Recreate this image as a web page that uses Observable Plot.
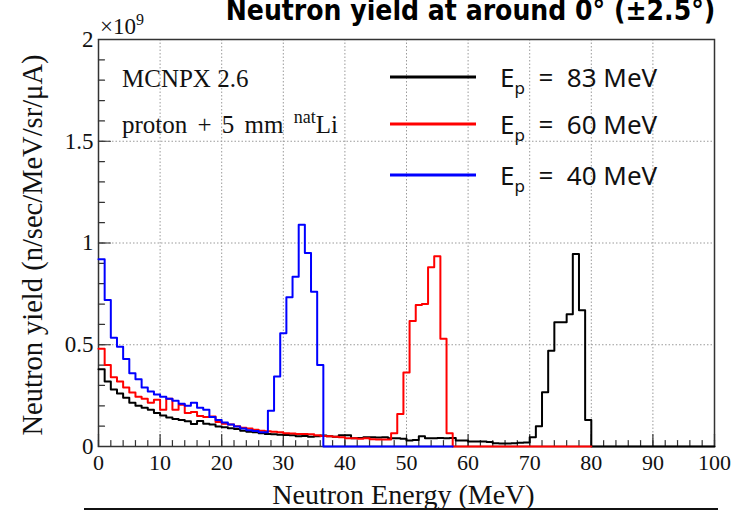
<!DOCTYPE html>
<html><head><meta charset="utf-8">
<script src="https://cdn.jsdelivr.net/npm/d3@7"></script>
<script src="https://cdn.jsdelivr.net/npm/@observablehq/plot@0.6"></script>
<style>
body{margin:0;background:#fff;}
#wrap{position:relative;width:733px;height:511px;overflow:hidden;}
</style></head><body><div id="wrap"></div>
<script>
// ---- data (yields in units of 1e9 n/sec/MeV/sr/uA) ----
const title = "Neutron yield at around 0° (±2.5°)";
const xLabel = "Neutron Energy (MeV)";
const yLabel = "Neutron yield (n/sec/MeV/sr/μA)";
const xTickValues = [0,10,20,30,40,50,60,70,80,90,100];
const yTickValues = [0,0.5,1,1.5,2];

// Ep = 83 MeV (black): bin edges and yields
const blackEdges = [0,1,2,3,4,5,6,7,8,9,10,11,12,13,14,15,16,17,18,19,20,21,22,23,24,25,26,27,28,29,30,31,32,33,34,35,36,37,38,39,40,41,42,43,44,45,46,47,48,49,50,51,52,53,54,55,56,57,58,59,60,61,62,63,64,65,66,67,68,69,70,71,72,73,74,75,76,77,78,79,80,100];
const blackYield = [0.38,0.32,0.28,0.26,0.24,0.215,0.20,0.19,0.18,0.165,
  0.152,0.143,0.135,0.13,0.124,0.11,0.125,0.112,0.108,0.098,
  0.095,0.09,0.086,0.078,0.072,0.07,0.065,0.062,0.06,0.058,
  0.056,0.055,0.05,0.052,0.048,0.05,0.054,0.05,0.048,0.055,
  0.055,0.04,0.042,0.045,0.045,0.044,0.045,0.04,0.04,0.038,
  0.03,0.032,0.05,0.04,0.04,0.042,0.04,0.042,0.03,0.03,
  0.025,0.024,0.024,0.022,0.016,0.015,0.015,0.016,0.018,0.02,
  0.046,0.1,0.266,0.47,0.61,0.61,0.65,0.946,0.67,0.13,
  0];

// Ep = 60 MeV (red)
const redEdges = [0,1,2,3,4,5,6,7,8,9,10,11,12,13,14,15,16,17,18,19,20,21,22,23,24,25,26,27,28,29,30,31,32,33,34,35,36,37,38,39,40,41,42,43,44,45,46,
  47.5,48.5,49.5,50.5,51.5,52.5,53.5,54.5,55.5,56.5,57.5,80];
const redYield = [0.48,0.40,0.34,0.32,0.29,0.265,0.245,0.235,0.215,0.23,
  0.18,0.235,0.18,0.205,0.165,0.17,0.15,0.145,0.148,0.12,
  0.112,0.108,0.10,0.092,0.088,0.082,0.078,0.075,0.072,0.07,
  0.065,0.064,0.062,0.062,0.06,0.055,0.052,0.05,0.048,0.045,
  0.04,0.04,0.038,0.04,0.036,0.035,
  0.035,
  0.065,0.16,0.364,0.617,0.695,0.70,0.881,0.935,0.53,0.065,
  0];

// Ep = 40 MeV (blue)
const blueEdges = [0,1,2,3,4,5,6,7,8,9,10,11,12,13,14,15,16,17,18,19,20,21,22,23,24,25,26,
  27.5,28.5,29.5,30.5,31.5,32.5,33.5,34.5,35.5,36.5,57.5];
const blueYield = [0.92,0.72,0.535,0.49,0.43,0.36,0.33,0.29,0.27,0.255,
  0.245,0.235,0.225,0.21,0.20,0.215,0.19,0.18,0.145,0.13,
  0.118,0.108,0.098,0.088,0.08,0.076,
  0.07,
  0.176,0.344,0.556,0.734,0.834,1.09,0.951,0.76,0.40,
  0];

const legendLabels = ["83","60","40"];
const legendColors = ["#000000","#ff0000","#0000ff"];
const note1 = "MCNPX 2.6";
const note2a = "proton + 5 mm ";
const note2sup = "nat";
const note2b = "Li";

// ---- build step points ----
function steps(edges, vals){
  const pts = vals.map((v,i)=>({E: edges[i], y: v}));
  pts.push({E: edges[edges.length-1], y: vals[vals.length-1]});
  return pts;
}
const serif = "Liberation Serif, Times New Roman, serif";
const tickShape = {draw(ctx, l){ ctx.moveTo(0,0); ctx.lineTo(0,-l); }};
const xMinor = d3.range(0,101,2);
const yMinor = d3.range(0,2.001,0.1);

const chart = Plot.plot({
  width: 733, height: 511,
  marginLeft: 98, marginRight: 19, marginTop: 39, marginBottom: 65,
  style: {background: "#fff"},
  x: {domain: [0,100]},
  y: {domain: [0,2]},
  marks: [
    Plot.ruleX(xTickValues.slice(1,-1), {stroke: "#9a9a9a", strokeDasharray: "1.5,2", strokeWidth: 1}),
    Plot.ruleY(yTickValues.slice(1,-1), {stroke: "#9a9a9a", strokeDasharray: "1.5,2", strokeWidth: 1}),
    Plot.vector(xMinor, {x: d=>d, frameAnchor: "bottom", length: 6, rotate: 0, anchor: "start", shape: tickShape, stroke: "#333", strokeWidth: 1.2}),
    Plot.vector(xTickValues, {x: d=>d, frameAnchor: "bottom", length: 12, rotate: 0, anchor: "start", shape: tickShape, stroke: "#333", strokeWidth: 1.2}),
    Plot.vector(yMinor, {y: d=>d, frameAnchor: "left", length: 6, rotate: 90, anchor: "start", shape: tickShape, stroke: "#333", strokeWidth: 1.2}),
    Plot.vector(yTickValues, {y: d=>d, frameAnchor: "left", length: 12, rotate: 90, anchor: "start", shape: tickShape, stroke: "#333", strokeWidth: 1.2}),
    Plot.frame({stroke: "#333", strokeWidth: 1.5}),
    Plot.axisX({ticks: xTickValues, tickSize: 0, tickPadding: 8, fontSize: 22, fontFamily: serif, label: null, fill: "#111"}),
    Plot.axisY({ticks: yTickValues, tickSize: 0, tickPadding: 5, fontSize: 23, fontFamily: serif, label: null, fill: "#111", tickFormat: d => String(d)}),
    Plot.line(steps(blackEdges, blackYield), {x: "E", y: "y", curve: "step-after", stroke: legendColors[0], strokeWidth: 2}),
    Plot.line(steps(redEdges, redYield), {x: "E", y: "y", curve: "step-after", stroke: legendColors[1], strokeWidth: 2}),
    Plot.line(steps(blueEdges, blueYield), {x: "E", y: "y", curve: "step-after", stroke: legendColors[2], strokeWidth: 2}),
    Plot.text([xLabel], {text: d=>d, frameAnchor: "bottom", textAnchor: "middle", lineAnchor: "bottom", dy: 57, dx: -3, fontSize: 28, fontFamily: serif, fill: "#111"}),
    Plot.text([yLabel], {text: d=>d, frameAnchor: "left", textAnchor: "middle", rotate: -90, lineAnchor: "middle", dx: -66, dy: 2, fontSize: 28.5, fontFamily: serif, fill: "#111"}),
    Plot.text([title], {text: d=>d, frameAnchor: "top", textAnchor: "middle", lineAnchor: "bottom", dx: 64, dy: -20, fontSize: 28, fontWeight: "bold", fontFamily: "DejaVu Sans Condensed, DejaVu Sans, sans-serif", fill: "#000"})
  ]
});
document.getElementById("wrap").appendChild(chart);

// ---- annotations / legend ----
const svg = d3.select(chart);
const g = svg.append("g").attr("text-anchor", "start");
// x10^9 exponent
const ex = g.append("text").attr("x", 100).attr("y", 34).attr("font-family", serif).attr("font-size", 23).attr("fill", "#111");
ex.append("tspan").text("×10");
ex.append("tspan").attr("font-size", 16).attr("dy", -9).text("9");
// notes
g.append("text").attr("x", 122).attr("y", 87).attr("font-family", serif).attr("font-size", 25).attr("fill", "#111").text(note1);
const n2 = g.append("text").attr("x", 122).attr("y", 133).attr("font-family", serif).attr("font-size", 25).attr("fill", "#111").attr("word-spacing", 4);
n2.append("tspan").text(note2a);
n2.append("tspan").attr("font-size", 18).attr("dy", -10).text(note2sup);
n2.append("tspan").attr("font-size", 25).attr("dy", 10).text(note2b);
// legend
const legY = [77, 124, 175];
legendLabels.forEach((lab, i) => {
  g.append("line").attr("x1", 390).attr("x2", 476).attr("y1", legY[i]).attr("y2", legY[i])
    .attr("stroke", legendColors[i]).attr("stroke-width", 3);
  const t = g.append("text").attr("x", 500).attr("y", legY[i] + 10).attr("font-family", "Noto Sans, Open Sans, sans-serif").attr("font-size", 26).attr("fill", "#111");
  t.append("tspan").text("E");
  t.append("tspan").attr("font-size", 17).attr("dy", 7).text("p");
  t.append("tspan").attr("dy", -7).attr("xml:space", "preserve").text("  =  " + lab + " MeV");
});
// bottom rule
g.append("line").attr("x1", 84).attr("x2", 718).attr("y1", 509).attr("y2", 509).attr("stroke", "#111").attr("stroke-width", 2);
</script></body></html>
